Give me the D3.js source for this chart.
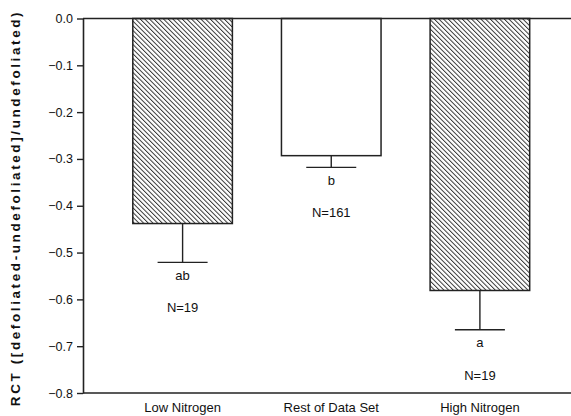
<!DOCTYPE html>
<html lang="en">
<head>
    <meta charset="UTF-8">
    <title>RCT bar chart</title>
    <script src="https://d3js.org/d3.v7.min.js"></script>
    <style>
        body { margin: 0; background: #fff; }
        svg { display: block; font-family: "Liberation Sans", Arial, sans-serif; }
    </style>
</head>
<body>
    <div id="chart"></div>
    <script>
        const categories = ["Low Nitrogen", "Rest of Data Set", "High Nitrogen"];
        const means = [-0.438, -0.293, -0.581];
        const errors = [0.083, 0.025, 0.084];
        const groupLetters = ["ab", "b", "a"];
        const sampleSizes = ["N=19", "N=161", "N=19"];
        const hatched = [true, false, true];
        const yTicks = [0.0, -0.1, -0.2, -0.3, -0.4, -0.5, -0.6, -0.7, -0.8];

        const width = 571;
        const height = 416;
        const margin = { top: 18.5, right: 0, bottom: 23, left: 83 };
        const innerHeight = height - margin.top - margin.bottom;

        const svg = d3.select("#chart")
            .append("svg")
            .attr("width", width)
            .attr("height", height);

        // diagonal hatch for the nitrogen bars
        svg.append("defs")
            .append("pattern")
            .attr("id", "hatch")
            .attr("patternUnits", "userSpaceOnUse")
            .attr("width", 3.3)
            .attr("height", 10)
            .attr("patternTransform", "rotate(-45)")
            .append("line")
            .attr("x1", 0.5).attr("y1", 0)
            .attr("x2", 0.5).attr("y2", 10)
            .attr("stroke", "#222")
            .attr("stroke-width", 0.9);

        const g = svg.append("g")
            .attr("transform", `translate(${margin.left}, ${margin.top})`);

        const xScale = d3.scaleBand()
            .domain(categories)
            .range([0, 496.5])
            .paddingInner(0.33)
            .paddingOuter(0.335);

        const yScale = d3.scaleLinear()
            .domain([0, -0.8])
            .range([0, innerHeight]);

        // bars
        g.selectAll("rect.bar")
            .data(categories)
            .join("rect")
            .attr("class", "bar")
            .attr("x", d => xScale(d))
            .attr("y", 0)
            .attr("width", xScale.bandwidth())
            .attr("height", (d, i) => yScale(means[i]))
            .attr("fill", (d, i) => hatched[i] ? "url(#hatch)" : "#fff")
            .attr("stroke", "#222")
            .attr("stroke-width", 1.5);

        // error bars (downward only)
        const capHalf = 25;
        const errG = g.selectAll("g.err")
            .data(categories)
            .join("g")
            .attr("class", "err")
            .attr("transform", d => `translate(${xScale(d) + xScale.bandwidth() / 2}, 0)`);

        errG.append("line")
            .attr("x1", 0).attr("x2", 0)
            .attr("y1", (d, i) => yScale(means[i]))
            .attr("y2", (d, i) => yScale(means[i] - errors[i]))
            .attr("stroke", "#222")
            .attr("stroke-width", 1.4);

        errG.append("line")
            .attr("x1", -capHalf).attr("x2", capHalf)
            .attr("y1", (d, i) => yScale(means[i] - errors[i]))
            .attr("y2", (d, i) => yScale(means[i] - errors[i]))
            .attr("stroke", "#222")
            .attr("stroke-width", 1.4);

        errG.append("text")
            .attr("text-anchor", "middle")
            .attr("y", (d, i) => yScale(means[i] - errors[i]) + 17.5)
            .attr("font-size", 13)
            .attr("fill", "#111")
            .text((d, i) => groupLetters[i]);

        errG.append("text")
            .attr("text-anchor", "middle")
            .attr("y", (d, i) => yScale(means[i] - errors[i]) + 50)
            .attr("font-size", 13)
            .attr("fill", "#111")
            .text((d, i) => sampleSizes[i]);

        // frame lines top and bottom
        g.append("line")
            .attr("x1", 0).attr("x2", width - margin.left)
            .attr("y1", yScale(0)).attr("y2", yScale(0))
            .attr("stroke", "#222").attr("stroke-width", 1.6);
        g.append("line")
            .attr("x1", 0).attr("x2", width - margin.left)
            .attr("y1", yScale(-0.8)).attr("y2", yScale(-0.8))
            .attr("stroke", "#222").attr("stroke-width", 1.6);

        // y axis
        const yAxis = g.append("g")
            .call(d3.axisLeft(yScale)
                .tickValues(yTicks)
                .tickFormat(d3.format(".1f"))
                .tickSize(6)
                .tickSizeOuter(0)
                .tickPadding(4));
        yAxis.select(".domain").attr("stroke", "#222").attr("stroke-width", 1.6);
        yAxis.selectAll(".tick line").attr("stroke", "#222").attr("stroke-width", 1.4);
        yAxis.selectAll(".tick text")
            .attr("font-family", "Liberation Sans, Arial, sans-serif")
            .attr("font-size", 12.5)
            .attr("fill", "#111");

        // category labels
        g.selectAll("text.cat")
            .data(categories)
            .join("text")
            .attr("class", "cat")
            .attr("x", d => xScale(d) + xScale.bandwidth() / 2)
            .attr("y", innerHeight + 19)
            .attr("text-anchor", "middle")
            .attr("font-size", 13)
            .attr("fill", "#111")
            .text(d => d);

        // y axis title
        svg.append("text")
            .attr("transform", "translate(20, 208) rotate(-90)")
            .attr("text-anchor", "middle")
            .attr("font-size", 13.5)
            .attr("font-weight", "bold")
            .attr("letter-spacing", 2.6)
            .attr("fill", "#111")
            .text("RCT ([defoliated-undefoliated]/undefoliated)");
    </script>
</body>
</html>
